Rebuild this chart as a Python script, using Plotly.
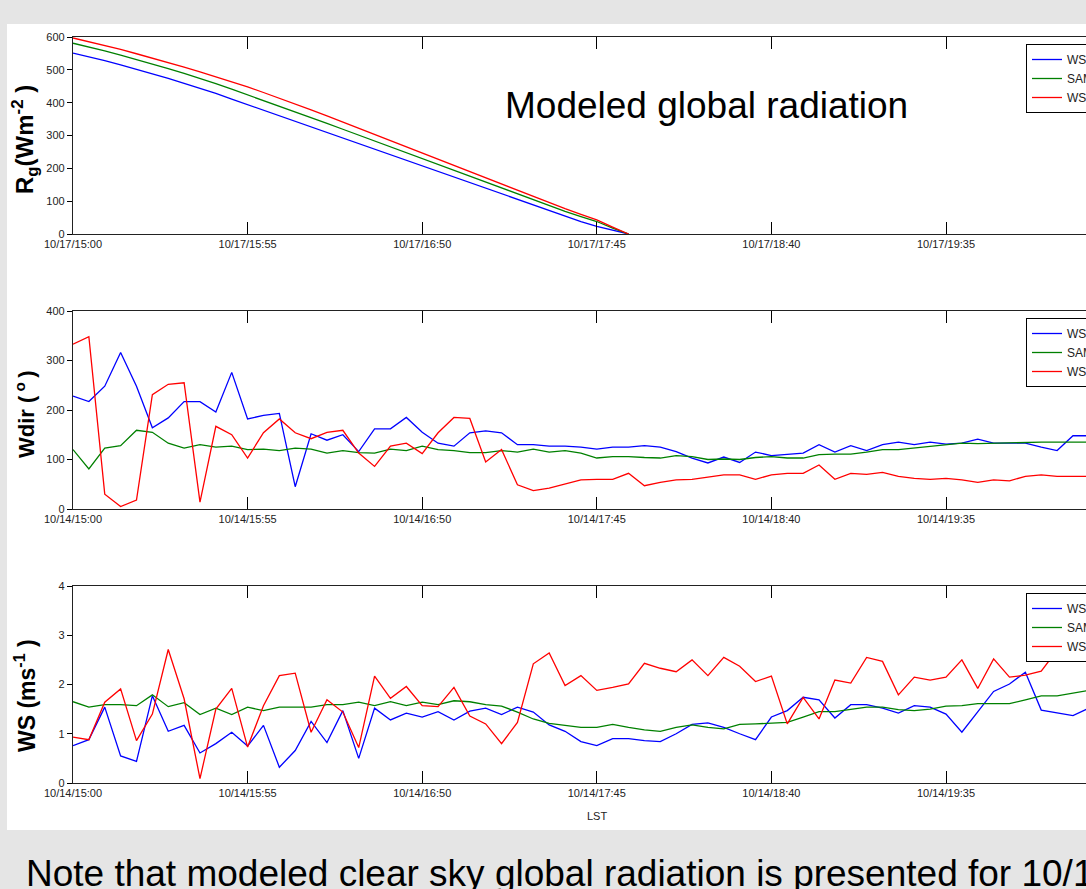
import pandas as pd
import plotly.graph_objects as go

# ---------------- data ----------------
rg_ws = [551, 540, 528, 515, 502, 488, 474, 459, 444, 428, 411, 394,
         378, 361, 344, 327, 310, 293, 276, 259, 242, 224, 206,
         189, 172, 155, 138, 121, 104, 87, 70, 54, 38, 23, 11, 0]
rg_sam = [581, 570, 558, 545, 532, 518, 504, 489, 474, 458, 441, 424,
          407, 390, 373, 355, 337, 319, 301, 283, 265, 247, 229,
          211, 193, 175, 157, 139, 121, 103, 86, 69, 53, 38, 18, 0]
rg_ws2 = [597, 586, 574, 562, 549, 536, 522, 508, 494, 479, 464, 448,
          431, 414, 396, 378, 360, 341, 322, 303, 284, 265, 246,
          227, 208, 189, 170, 151, 132, 113, 95, 77, 60, 43, 21, 0]

wdir_ws = [228, 217, 248, 316, 248, 164, 184, 217, 217, 196, 276, 182, 189, 193, 45, 152, 139, 150,
           116, 162, 162, 185, 155, 133, 127, 154, 158, 154, 130, 130, 127, 127, 125, 121, 125, 125,
           128, 125, 116, 103, 93, 105, 94, 115, 108, 110, 113, 130, 115, 128, 118, 130, 135, 130,
           135, 131, 133, 141, 133, 133, 133, 125, 118, 148, 148]
wdir_sam = [120, 81, 123, 128, 159, 155, 133, 123, 130, 125, 127, 120, 121, 118, 123, 121, 113, 118,
            114, 113, 121, 118, 127, 120, 118, 114, 114, 118, 115, 121, 115, 118, 113, 103, 106, 106,
            104, 103, 108, 106, 100, 101, 100, 104, 106, 103, 103, 110, 111, 111, 115, 120, 120, 123,
            127, 130, 133, 132, 133, 133, 135, 135, 135, 135, 135]
wdir_ws2 = [333, 348, 30, 5, 18, 231, 252, 255, 14, 167, 150, 103, 154, 182, 154, 142, 155, 159,
            113, 86, 127, 133, 112, 154, 185, 183, 95, 120, 49, 37, 42, 50, 59, 60, 60, 72,
            47, 54, 59, 60, 64, 69, 69, 60, 69, 72, 72, 89, 60, 72, 70, 74, 66, 62,
            60, 62, 59, 54, 59, 57, 66, 69, 66, 66, 66]

ws_ws = [0.76, 0.88, 1.54, 0.55, 0.44, 1.77, 1.05, 1.17, 0.61, 0.80, 1.03, 0.75, 1.17, 0.32, 0.66, 1.25,
         0.82, 1.47, 0.50, 1.52, 1.28, 1.42, 1.34, 1.45, 1.28, 1.46, 1.52, 1.39, 1.54, 1.44, 1.18, 1.05,
         0.84, 0.76, 0.90, 0.90, 0.86, 0.84, 1.00, 1.19, 1.22, 1.13, 1.00, 0.88, 1.34, 1.47, 1.74, 1.69,
         1.32, 1.59, 1.59, 1.52, 1.42, 1.57, 1.54, 1.40, 1.03, 1.44, 1.86, 2.01, 2.25, 1.48, 1.42, 1.37,
         1.52]
ws_sam = [1.65, 1.54, 1.59, 1.59, 1.57, 1.79, 1.55, 1.63, 1.39, 1.52, 1.39, 1.54, 1.47, 1.54, 1.54, 1.54,
          1.59, 1.59, 1.64, 1.57, 1.65, 1.57, 1.64, 1.59, 1.67, 1.65, 1.59, 1.56, 1.44, 1.30, 1.21, 1.17,
          1.13, 1.13, 1.19, 1.13, 1.08, 1.05, 1.13, 1.18, 1.13, 1.10, 1.19, 1.20, 1.21, 1.23, 1.34, 1.45,
          1.45, 1.50, 1.54, 1.54, 1.49, 1.47, 1.50, 1.56, 1.57, 1.61, 1.61, 1.61, 1.69, 1.77, 1.77, 1.83,
          1.88]
ws_ws2 = [0.93, 0.88, 1.64, 1.91, 0.86, 1.40, 2.71, 1.71, 0.09, 1.50, 1.92, 0.73, 1.57, 2.18, 2.23, 1.03,
          1.69, 1.44, 0.72, 2.17, 1.72, 1.96, 1.57, 1.55, 1.94, 1.36, 1.20, 0.80, 1.23, 2.42, 2.64, 1.98,
          2.18, 1.88, 1.94, 2.01, 2.43, 2.33, 2.26, 2.50, 2.18, 2.55, 2.37, 2.06, 2.17, 1.20, 1.74, 1.30,
          2.09, 2.03, 2.55, 2.47, 1.79, 2.15, 2.09, 2.15, 2.50, 1.92, 2.52, 2.15, 2.19, 2.27, 2.70, 2.80,
          2.60]

series_names = ["WS", "SAMS", "WS2"]
colors = ["#0000ff", "#008000", "#ff0000"]

t17 = pd.date_range("2013-10-17 15:00", periods=len(rg_ws), freq="5min")
t14 = pd.date_range("2013-10-14 15:00", periods=len(wdir_ws), freq="5min")

tick_times = ["15:00", "15:55", "16:50", "17:45", "18:40", "19:35"]

# ---------------- layout helpers ----------------
W, H = 1086, 889
def px_x(x):
    return x / W
def px_y(y):
    return 1 - y / H

TICKF = "Liberation Sans, Arial, sans-serif"
SANS = "Liberation Sans, Arial, sans-serif"

fig = go.Figure()

panels = [
    ("x", "y", "legend", t17, [rg_ws, rg_sam, rg_ws2], "2013-10-17", (37, 234), [0, 600], 100, 44),
    ("x2", "y2", "legend2", t14, [wdir_ws, wdir_sam, wdir_ws2], "2013-10-14", (311, 509), [0, 400], 100, 318),
    ("x3", "y3", "legend3", t14, [ws_ws, ws_sam, ws_ws2], "2013-10-14", (586, 783), [0, 4], 1, 593),
]

layout = dict(
    width=W, height=H,
    margin=dict(l=0, r=0, t=0, b=0, autoexpand=False),
    paper_bgcolor="#e5e5e5",
    plot_bgcolor="white",
    showlegend=True,
)

for xa, ya, lg, t, vals, day, (ytop, ybot), yr, dtick, legtop in panels:
    for name, v, c in zip(series_names, vals, colors):
        fig.add_trace(go.Scatter(
            x=t[:len(v)], y=v, mode="lines", name=name,
            line=dict(color=c, width=1.3), xaxis=xa, yaxis=ya, legend=lg,
        ))
    xkey = "xaxis" if xa == "x" else "xaxis" + xa[1:]
    ykey = "yaxis" if ya == "y" else "yaxis" + ya[1:]
    tv = [f"{day} {hm}" for hm in tick_times]
    layout[xkey] = dict(
        domain=[px_x(73), 1.0],
        range=[f"{day} 15:00:00", f"{day} 20:19:06"],
        anchor=ya,
        tickmode="array", tickvals=tv, tickformat="%m/%d/%H:%M",
        ticks="inside", ticklen=12, tickwidth=1.2, tickcolor="black",
        showline=True, linecolor="#222", linewidth=1.2, mirror="ticks",
        showgrid=False, zeroline=False,
        tickfont=dict(family=TICKF, size=11, color="#222"),
    )
    layout[ykey] = dict(
        domain=[px_y(ybot), px_y(ytop)],
        range=yr, anchor=xa, dtick=dtick, tick0=0,
        ticks="outside", ticklen=5, tickwidth=1.2, tickcolor="black",
        showline=True, linecolor="#222", linewidth=1.2, mirror=False,
        showgrid=False, zeroline=False,
        tickfont=dict(family=TICKF, size=11, color="#222"),
    )
    layout[lg] = dict(
        x=px_x(1026), y=px_y(legtop), xanchor="left", yanchor="top",
        bgcolor="white", bordercolor="black", borderwidth=1,
        font=dict(family=TICKF, size=12, color="#222"),
        tracegroupgap=0,
    )

fig.update_layout(**layout)

# white figure panel
fig.add_shape(type="rect", xref="paper", yref="paper",
              x0=px_x(7), x1=1.05, y0=px_y(830), y1=px_y(24),
              fillcolor="white", line=dict(width=0), layer="below")

ann = []
ytitles = [("R<sub>g</sub>(Wm<sup>-2</sup> )", 140, 24),
           ("Wdir (<sup> o </sup>)", 414, 22),
           ("WS (ms<sup>-1</sup> )", 696, 23)]
for txt, yc, fs in ytitles:
    ann.append(dict(text=f"<b>{txt}</b>", x=px_x(25), y=px_y(yc), xref="paper", yref="paper",
                    textangle=-90, showarrow=False, xanchor="center", yanchor="middle",
                    font=dict(family=SANS, size=fs, color="black")))
ann.append(dict(text="Modeled global radiation", x=px_x(707), y=px_y(105), xref="paper", yref="paper",
                showarrow=False, xanchor="center", yanchor="middle",
                font=dict(family=SANS, size=37, color="black")))
ann.append(dict(text="LST", x=px_x(597), y=px_y(816), xref="paper", yref="paper",
                showarrow=False, xanchor="center", yanchor="middle",
                font=dict(family=TICKF, size=11, color="#222")))
ann.append(dict(text="Note that modeled clear sky global radiation is presented for 10/17",
                x=px_x(24), y=px_y(873), xref="paper", yref="paper",
                showarrow=False, xanchor="left", yanchor="middle",
                font=dict(family=SANS, size=37, color="black")))
fig.update_layout(annotations=ann)

fig.write_html("out.html", post_script="document.body.style.margin='0';document.body.style.overflow='hidden';")
